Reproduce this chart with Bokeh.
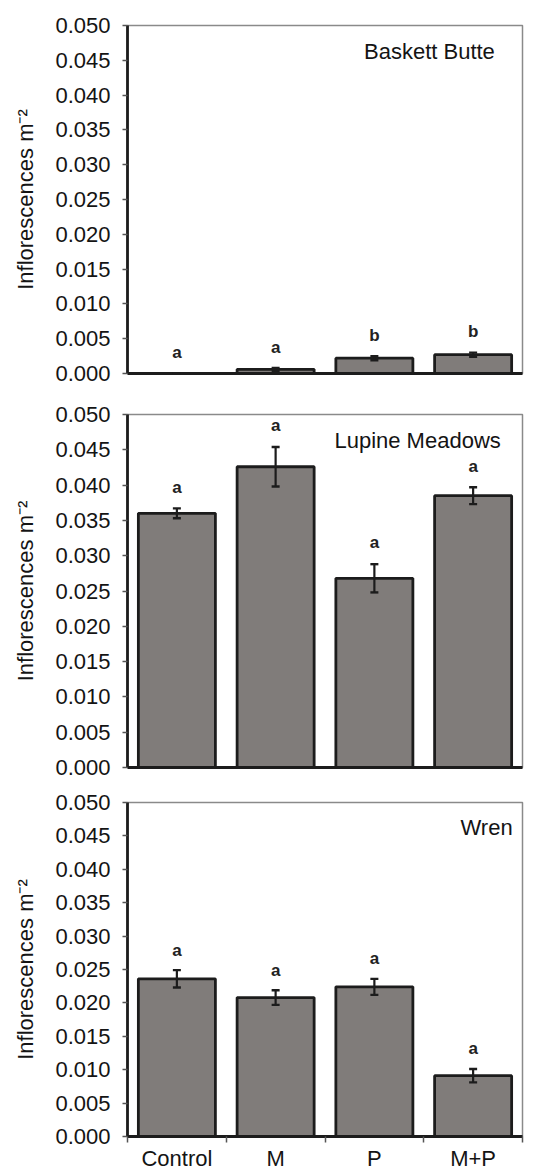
from bokeh.plotting import figure
from bokeh.layouts import column
from bokeh.models import (ColumnDataSource, Range1d, FixedTicker, Whisker, TeeHead,
                          Label, NumeralTickFormatter)
from bokeh.embed import file_html
from bokeh.resources import INLINE
from bokeh.core.properties import value

# ---------------- data ----------------
categories = ["Control", "M", "P", "M+P"]

bb_mean = [0.0000, 0.0006, 0.0022, 0.0027]
bb_err = [0.0000, 0.0002, 0.0003, 0.0003]
bb_letters = ["a", "a", "b", "b"]

lm_mean = [0.0360, 0.0426, 0.0268, 0.0385]
lm_err = [0.0007, 0.0028, 0.0020, 0.0012]
lm_letters = ["a", "a", "a", "a"]

wr_mean = [0.0236, 0.0208, 0.0224, 0.0091]
wr_err = [0.0013, 0.0011, 0.0012, 0.0010]
wr_letters = ["a", "a", "a", "a"]

y_ticks = [0.000, 0.005, 0.010, 0.015, 0.020, 0.025, 0.030, 0.035, 0.040, 0.045, 0.050]
site_names = ["Baskett Butte", "Lupine Meadows", "Wren"]

FONT = "Liberation Sans"
TXT = "#141414"


def panel(mean, err, letters, site, height, borders, title_x, show_x):
    top, bottom, left, right = borders
    xs = [i + 0.5 for i in range(len(categories))]
    src = ColumnDataSource(dict(
        x=xs, top=mean,
        upper=[m + e for m, e in zip(mean, err)],
        lower=[m - e for m, e in zip(mean, err)],
        lab_y=[m + e + 0.003 for m, e in zip(mean, err)],
        letter=letters,
    ))
    p = figure(width=537, height=height, output_backend="svg", toolbar_location=None,
               x_range=Range1d(0, len(categories)), y_range=Range1d(0, 0.05),
               min_border_top=top, min_border_bottom=bottom,
               min_border_left=left, min_border_right=right)
    p.xgrid.visible = False
    p.ygrid.visible = False
    p.outline_line_color = "#8a8a8a"
    p.outline_line_width = 1.5
    p.background_fill_color = "white"
    p.border_fill_color = "white"

    p.vbar(x="x", top="top", bottom=0, width=0.78, source=src,
           fill_color="#807c7a", line_color="#1c1c1c", line_width=2.8)

    w = Whisker(source=src, base="x", upper="upper", lower="lower", dimension="height",
                line_color="#1c1c1c", line_width=2.2, level="annotation",
                upper_head=TeeHead(size=8, line_color="#1c1c1c", line_width=2.4),
                lower_head=TeeHead(size=8, line_color="#1c1c1c", line_width=2.4))
    p.add_layout(w)

    p.text(x="x", y="lab_y", text="letter", source=src, text_align="center",
           text_baseline="middle", text_font=value(FONT), text_font_size="17px",
           text_font_style="bold", text_color="#222222")

    p.add_layout(Label(x=title_x, y=0.0463, text=site, text_align="right",
                       text_baseline="middle", text_font=FONT,
                       text_font_size="22px", text_color=TXT))

    # y axis
    ya = p.yaxis[0]
    ya.ticker = FixedTicker(ticks=y_ticks, minor_ticks=[])
    ya.formatter = NumeralTickFormatter(format="0.000")
    ya.axis_line_color = "#1c1c1c"
    ya.axis_line_width = 2.8
    ya.major_tick_in = 0
    ya.major_tick_out = 5
    ya.major_tick_line_color = "#555555"
    ya.major_tick_line_width = 1.5
    ya.minor_tick_line_color = None
    ya.major_label_standoff = 12
    ya.major_label_text_font = FONT
    ya.major_label_text_font_size = "22px"
    ya.major_label_text_color = TXT
    ya.axis_label = "Inflorescences m\u207b\u00b2"
    ya.axis_label_text_font = FONT
    ya.axis_label_text_font_size = "22px"
    ya.axis_label_text_font_style = "normal"
    ya.axis_label_text_color = TXT
    ya.axis_label_standoff = 14

    # x axis
    xa = p.xaxis[0]
    xa.axis_line_color = "#1c1c1c"
    xa.axis_line_width = 2.8
    if show_x:
        xa.ticker = FixedTicker(ticks=xs, minor_ticks=list(range(len(categories) + 1)))
        xa.major_label_overrides = {x: c for x, c in zip(xs, categories)}
        xa.major_tick_line_color = None
        xa.major_tick_in = 0
        xa.major_tick_out = 6
        xa.minor_tick_in = 0
        xa.minor_tick_out = 6
        xa.minor_tick_line_color = "#555555"
        xa.minor_tick_line_width = 1.5
        xa.major_label_standoff = 3
        xa.major_label_text_font = FONT
        xa.major_label_text_font_size = "22px"
        xa.major_label_text_color = TXT
    else:
        xa.ticker = FixedTicker(ticks=[], minor_ticks=[])
        xa.major_tick_line_color = None
        xa.minor_tick_line_color = None
        xa.major_tick_out = 0
        xa.major_label_text_font_size = "0px"
        xa.major_label_standoff = 0
    return p


p1 = panel(bb_mean, bb_err, bb_letters, site_names[0], 391, (25, 18, 127, 15), 3.72, False)
p2 = panel(lm_mean, lm_err, lm_letters, site_names[1], 389, (23, 13, 126, 15), 3.78, False)
p3 = panel(wr_mean, wr_err, wr_letters, site_names[2], 393, (22, 36, 123, 10), 3.9, True)

layout = column(p1, p2, p3, spacing=0)
open("out.html", "w").write(file_html(layout, INLINE))
